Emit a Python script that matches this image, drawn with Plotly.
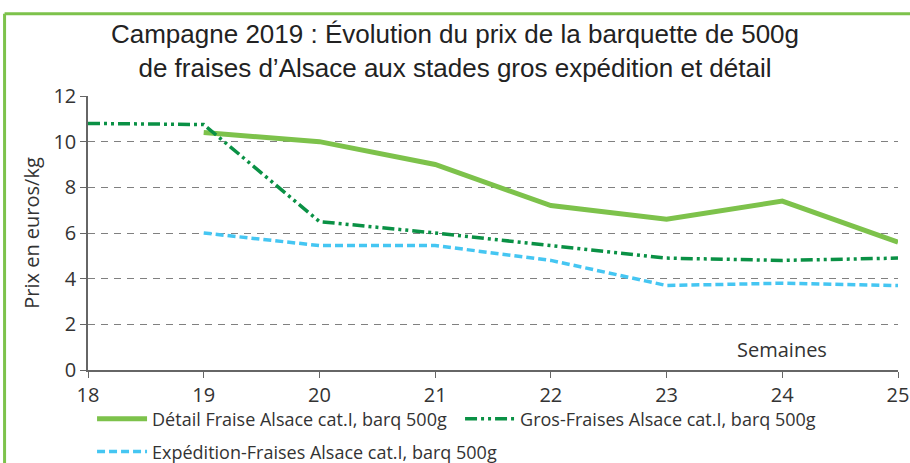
import plotly.graph_objects as go

# Semaines et prix (euros/kg)
semaines_detail = [19, 20, 21, 22, 23, 24, 25]
prix_detail = [10.4, 10.0, 9.0, 7.2, 6.6, 7.4, 5.6]

semaines_gros = [18, 19, 20, 21, 22, 23, 24, 25]
prix_gros = [10.8, 10.75, 6.5, 6.0, 5.45, 4.9, 4.8, 4.9]

semaines_exp = [19, 20, 21, 22, 23, 24, 25]
prix_exp = [6.0, 5.45, 5.45, 4.8, 3.7, 3.8, 3.7]

fig = go.Figure()
fig.add_trace(go.Scatter(x=semaines_detail, y=prix_detail, mode="lines",
                         name="Détail Fraise Alsace cat.I, barq 500g",
                         line=dict(color="#7dc24b", width=5)))
fig.add_trace(go.Scatter(x=semaines_gros, y=prix_gros, mode="lines",
                         name="Gros-Fraises Alsace cat.I, barq 500g",
                         line=dict(color="#0a9145", width=3.5, dash="12px,4px,3px,4px,3px,4px")))
# 3e série dans une 2e légende pour caler la 2e ligne
fig.add_trace(go.Scatter(x=semaines_exp, y=prix_exp, mode="lines", legend="legend2",
                         name="Expédition-Fraises Alsace cat.I, barq 500g",
                         line=dict(color="#45c6f2", width=3.5, dash="8px,4px")))

fig.update_layout(
    width=910, height=463,
    paper_bgcolor="white", plot_bgcolor="white",
    margin=dict(l=88, r=12, t=96, b=93, autoexpand=False),
    font=dict(family="Open Sans", color="#333333"),
    title=dict(text="Campagne 2019 : Évolution du prix de la barquette de 500g<br>de fraises d’Alsace aux stades gros expédition et détail",
               x=0.5, xanchor="center", y=0.907, yanchor="top",
               font=dict(family="Liberation Sans", size=26, color="#222222")),
    xaxis=dict(range=[18, 25], tickvals=[18, 19, 20, 21, 22, 23, 24, 25],
               showgrid=False, zeroline=False, showline=True, linecolor="#666666", linewidth=1.5,
               ticks="outside", ticklen=6, tickcolor="#666666",
               tickfont=dict(size=20, color="#333333")),
    yaxis=dict(range=[0, 12], dtick=2, showgrid=True, gridcolor="#808080", griddash="7px,6px",
               gridwidth=1, zeroline=False, showline=True, linecolor="#666666", linewidth=1.5,
               ticks="outside", ticklen=6, tickcolor="#666666",
               tickfont=dict(size=20, color="#333333"),
               title=dict(text="Prix en euros/kg", font=dict(size=20, color="#333333"), standoff=8)),
    legend=dict(orientation="h", x=0.005, xanchor="left", yref="container", y=0.135, yanchor="top",
                entrywidth=303, font=dict(size=18, color="#333333"), bgcolor="rgba(0,0,0,0)",
                itemwidth=50, tracegroupgap=0),
    legend2=dict(orientation="h", x=0.005, xanchor="left", yref="container", y=0.064, yanchor="top",
                 font=dict(size=18, color="#333333"), bgcolor="rgba(0,0,0,0)", itemwidth=50),
    showlegend=True,
)

fig.add_annotation(text="Semaines", x=24.0, y=0.9, xref="x", yref="y",
                   showarrow=False, font=dict(size=20, color="#333333"))

# cadre vert
fig.add_shape(type="line", xref="paper", yref="paper", x0=-0.103, x1=1.02, y0=1.3, y1=1.3,
              line=dict(color="#7dc24b", width=3))
fig.add_shape(type="line", xref="paper", yref="paper", x0=-0.103, x1=-0.103, y0=-0.4, y1=1.3,
              line=dict(color="#7dc24b", width=3))

fig.write_html("out.html", config={"displayModeBar": False},
               post_script="document.body.style.margin='0px';")
